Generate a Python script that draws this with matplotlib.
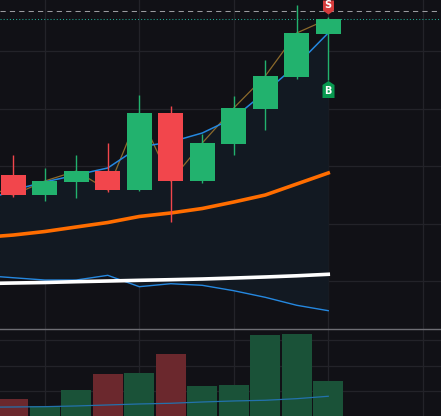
import matplotlib
matplotlib.use("Agg")
import matplotlib.pyplot as plt
import numpy as np
from matplotlib.path import Path
from matplotlib import transforms

# candles, index 0 = first bar in view
opens = [118.47, 114.98, 117.25, 119.16, 115.85, 129.27, 117.42, 123.87, 129.97, 135.54, 143.03]
highs = [121.95, 119.69, 121.95, 124.04, 132.40, 130.49, 125.61, 132.23, 138.50, 148.08, 145.99]
lows = [114.69, 113.94, 114.46, 115.51, 115.70, 110.28, 117.07, 121.95, 126.31, 135.19, 135.02]
closes = [114.98, 117.42, 119.16, 115.85, 129.27, 117.42, 124.04, 130.14, 135.71, 143.21, 145.64]
volumes = [700, 420, 1050, 1680, 1720, 2460, 1210, 1250, 3210, 3250, 1400]

# indicator lines, first value is the bar just left of the view
prev_close = 116.5
volume_ma = [375, 384, 396, 424, 463, 502, 529, 580, 620, 647, 710, 804]
ema_fast = [113.76, 115.85, 117.25, 118.47, 119.69, 123.34, 124.22, 125.78, 128.40, 132.93, 137.63, 143.21]
ema_slow = [107.58, 108.01, 108.62, 109.41, 110.19, 111.24, 111.85, 112.63, 113.76, 114.98, 116.90, 118.82]
sma_long = [99.55, 99.65, 99.74, 99.88, 100.00, 100.12, 100.23, 100.35, 100.52, 100.70, 100.91, 101.17]
lower_band = [100.98, 100.57, 100.17, 100.17, 100.99, 99.01, 99.53, 99.25, 98.31, 97.16, 95.77, 94.83]

session_high = 146.99
signals = [(10, 'S'), (10, 'B')]

bg = '#111116'
grid_c = '#232329'
up_c, down_c = '#22b26e', '#f2464c'
vol_up, vol_down = '#1a5238', '#6b282d'

x = np.arange(len(closes))
lx = np.arange(-1, len(closes))

fig = plt.figure(figsize=(4.41, 4.16), dpi=100, facecolor=bg)
ax = fig.add_axes([0, 87 / 416, 1, 329 / 416], facecolor=bg)
axv = fig.add_axes([0, 0, 1, 87 / 416], facecolor=bg, sharex=ax)

for a in (ax, axv):
    for s in a.spines.values():
        s.set_visible(False)
    a.set_xticks([1, 4, 7, 10, 13])
    a.tick_params(length=0, labelbottom=False, labelleft=False)
    a.grid(True, color=grid_c, lw=0.9)
    a.set_axisbelow(True)

ax.set_xlim(-0.422, 13.58)
ax.set_ylim(91.64, 148.95)
ax.set_yticks([100, 110, 120, 130, 140])
axv.set_ylim(30, 3443)
axv.set_yticks([1000, 2000, 3000])
axv.spines['top'].set_visible(True)
axv.spines['top'].set_color('#6e6e74')
axv.spines['top'].set_linewidth(1.0)

# channel fill and lines
ax.fill_between(lx, ema_fast, lower_band, color='#121922', lw=0, zorder=1)
ax.plot(lx, lower_band, color='#2588e0', lw=1.0, zorder=2)
ax.plot(lx, sma_long, color='white', lw=2.6, zorder=3)
ax.plot(lx, ema_slow, color='#ff6d00', lw=2.6, zorder=3)
ax.plot(lx, [prev_close] + closes, color='#8c6a2b', lw=0.9, zorder=2)
ax.plot(lx, ema_fast, color='#2588e0', lw=1.1, zorder=2.1)

ax.axhline(session_high, color='#9b9b9f', lw=0.75, dashes=(5, 4), zorder=2)
ax.axhline(closes[-1], color='#22ab94', lw=0.75, dashes=(1, 2), zorder=2)

# candles
colors = [up_c if c >= o else down_c for o, c in zip(opens, closes)]
bottoms = [min(o, c) for o, c in zip(opens, closes)]
heights = [abs(c - o) for o, c in zip(opens, closes)]
ax.vlines(x, lows, highs, colors=colors, lw=1.0, zorder=4)
ax.bar(x, heights, bottom=bottoms, width=0.79, color=colors, zorder=4.1)

# volume
vcolors = [vol_up if c >= o else vol_down for o, c in zip(opens, closes)]
axv.bar(x, volumes, width=0.95, color=vcolors, zorder=2)
axv.plot(lx, volume_ma, color='#2372ad', lw=0.9, zorder=3)

# signal flags
sell_path = Path([(-5.5, 7), (5.5, 7), (5.5, -3), (0, -7), (-5.5, -3), (-5.5, 7)], closed=True)
buy_path = Path([(0, 8.5), (6, 4.5), (6, -8.5), (-6, -8.5), (-6, 4.5), (0, 8.5)], closed=True)
px = 72 / 100
for i, kind in signals:
    if kind == 'S':
        tr = transforms.offset_copy(ax.transData, fig=fig, y=10 * px, units='points')
        ax.plot(i, highs[i], marker=sell_path, ms=14 * px, color='#d63c3c', mew=0, transform=tr, zorder=6)
        ax.annotate('S', (i, highs[i]), xytext=(0, 11.7 * px), textcoords='offset points',
                    ha='center', va='center', color='white', fontsize=7, fontweight='bold', zorder=7)
    else:
        tr = transforms.offset_copy(ax.transData, fig=fig, y=-9.5 * px, units='points')
        ax.plot(i, lows[i], marker=buy_path, ms=17 * px, color='#089950', mew=0, transform=tr, zorder=6)
        ax.annotate('B', (i, lows[i]), xytext=(0, -11 * px), textcoords='offset points',
                    ha='center', va='center', color='white', fontsize=7, fontweight='bold', zorder=7)

fig.savefig('out.png', dpi=100, facecolor=bg)
